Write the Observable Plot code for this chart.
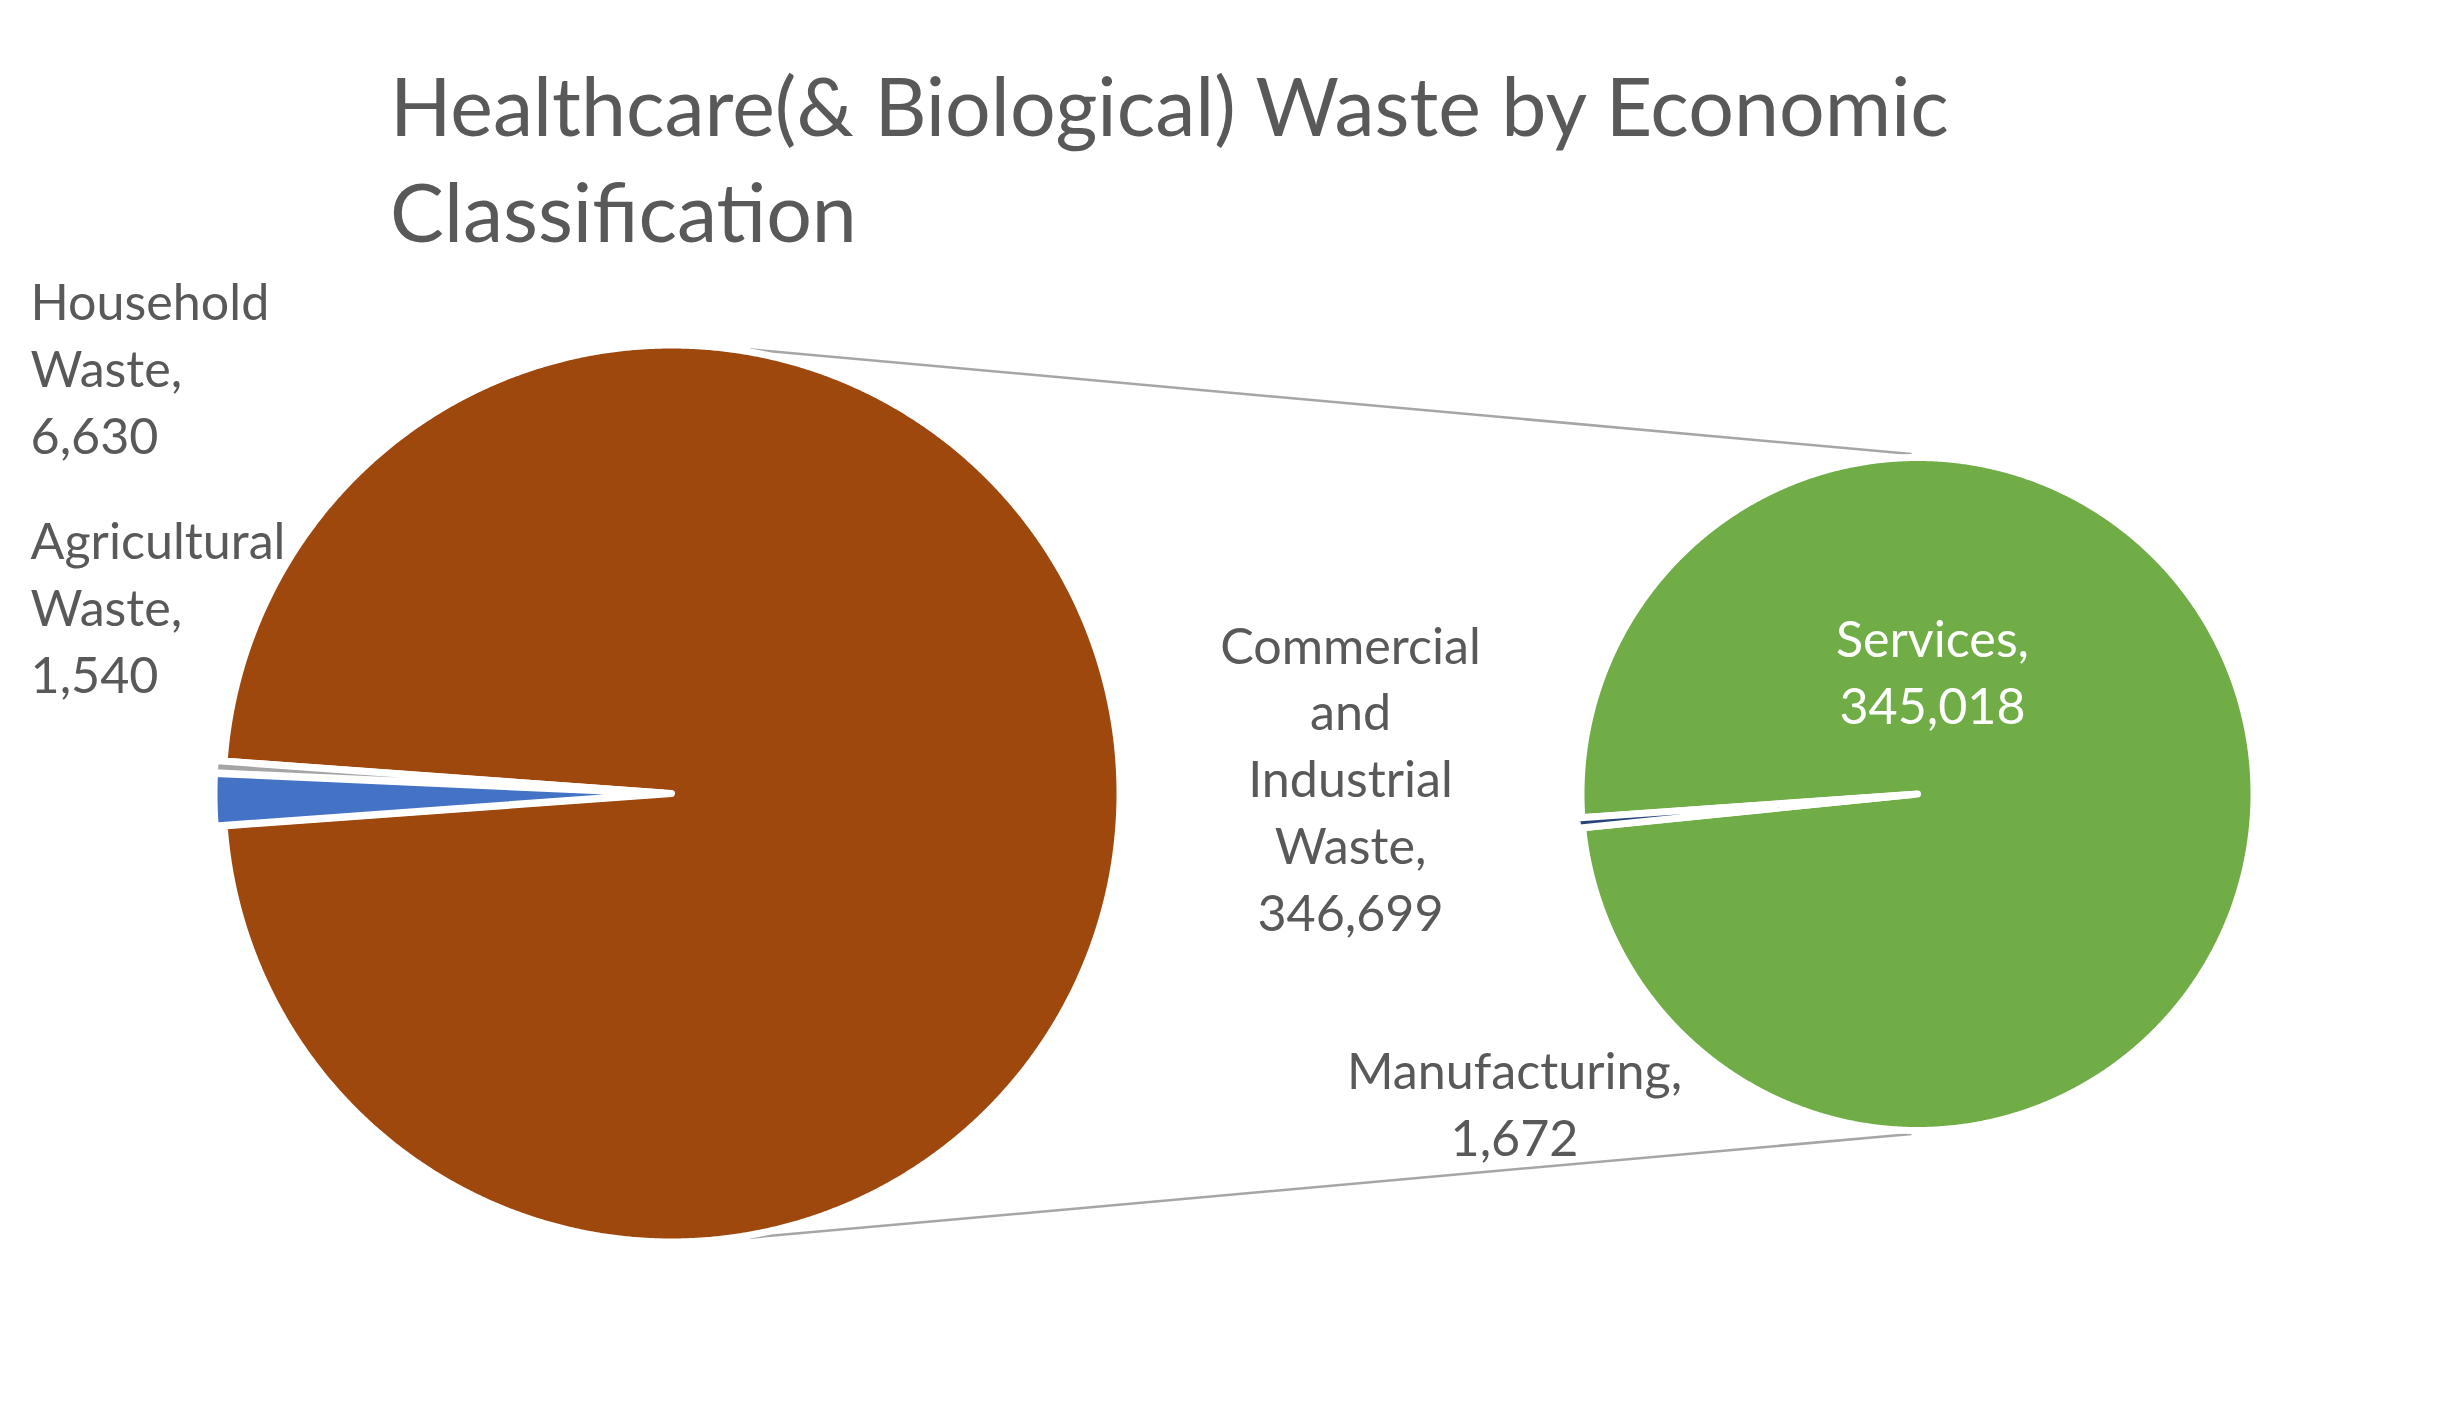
<!DOCTYPE html>
<html><head><meta charset="utf-8">
<script src="https://cdn.jsdelivr.net/npm/d3@7"></script>
<script src="https://cdn.jsdelivr.net/npm/@observablehq/plot@0.6"></script>
<style>
html,body{margin:0;padding:0;background:#fff;}
#wrap{position:relative;width:2448px;height:1421px;overflow:hidden;background:#fff;}
#title{position:relative;height:270px;}
#title div{position:absolute;white-space:nowrap;color:#595959;font-family:Lato;font-weight:400;}
#chart svg{display:block;}
</style></head><body>
<div id="wrap"><div id="title"></div><div id="chart"></div></div>
<script>
// ---- data ----
const titleLines = ["Healthcare(& Biological) Waste by Economic", "Classification"];
const mainCategories = ["Commercial and Industrial Waste", "Agricultural Waste", "Household Waste"];
const mainLabelNames = ["Commercial\nand\nIndustrial\nWaste", "Agricultural\nWaste", "Household\nWaste"];
const mainValues = [346699, 1540, 6630];
const mainColors = ["#9E480E", "#A5A5A5", "#4472C4"];
const subCategories = ["Services", "Manufacturing"];
const subLabelNames = ["Services", "Manufacturing"];
const subValues = [345018, 1672];
const subColors = ["#70AD47", "#264478"];

// ---- layout ----
const W = 2448, TOP = 270, H = 1421 - TOP;
const FONT = "Lato";
const TEXT = "#595959";
const left = {cx: 671, cy: 793, r: 448.5};
const right = {cx: 1917, cy: 793.5, r: 336.5};
const mainExplode = [0, 9, 9];
const subExplode = [0, 5];
const GAP = 7;
const fmt = d3.format(",");
const rad = d => d * Math.PI / 180;

const ctx = document.createElement("canvas").getContext("2d");
function measure(text, size) { ctx.font = `400 ${size}px ${FONT}`; return ctx.measureText(text); }

// title
const titleSize = 87 * 1562 / measure(titleLines[0], 87).width;
const tm = measure(titleLines[0], titleSize);
const asc = tm.fontBoundingBoxAscent, desc = tm.fontBoundingBoxDescent;
const titleBaselines = [137, 243];
titleLines.forEach((t, i) => {
  const d = document.createElement("div");
  d.textContent = t;
  d.style.fontSize = titleSize + "px";
  d.style.lineHeight = titleSize + "px";
  d.style.left = "390px";
  d.style.top = (titleBaselines[i] - ((titleSize - (asc + desc)) / 2 + asc)) + "px";
  document.getElementById("title").appendChild(d);
});

// label font size
const labelSize = 55 * 255 / measure("Agricultural", 55).width;
const lineH = 66.7 / labelSize;

// ---- slices ----
function slices(values, colors, start, pie, explode) {
  const total = d3.sum(values);
  let a = start;
  return values.map((v, i) => {
    const span = v / total * 360;
    const a0 = a, a1 = a + span; a = a1;
    const mid = rad((a0 + a1) / 2);
    const cx = pie.cx + explode[i] * Math.cos(mid), cy = pie.cy - explode[i] * Math.sin(mid);
    const n = Math.max(2, Math.ceil(span / 0.25));
    const pts = [{x: cx, y: cy}];
    for (let k = 0; k <= n; k++) {
      const t = rad(a0 + (a1 - a0) * k / n);
      pts.push({x: cx + pie.r * Math.cos(t), y: cy - pie.r * Math.sin(t)});
    }
    return {points: pts, color: colors[i]};
  });
}
const mainTotal = d3.sum(mainValues);
const mainStart = -(mainValues[0] / mainTotal * 360) / 2;   // "other" slice centred toward the second pie
const subStart = 185.77;
const mainSlices = slices(mainValues, mainColors, mainStart, left, mainExplode);
const subSlices = slices(subValues, subColors, subStart, right, subExplode);

// connector lines
const rl = left.r - GAP / 2 + 6, rr = right.r - GAP / 2 + 7;
const connectors = [];
[[80, 91, "top"], [-80, -91, "bottom"]].forEach(([aL, aR, id]) => {
  connectors.push({id, x: left.cx + rl * Math.cos(rad(aL)), y: left.cy - rl * Math.sin(rad(aL))});
  connectors.push({id, x: right.cx + rr * Math.cos(rad(aR)), y: right.cy - rr * Math.sin(rad(aR))});
});

// labels
const labels = [
  {text: mainLabelNames[2] + ",\n" + fmt(mainValues[2]), x: 30, y: 453, anchor: "start", fill: TEXT},
  {text: mainLabelNames[1] + ",\n" + fmt(mainValues[1]), x: 30, y: 692, anchor: "start", fill: TEXT},
  {text: mainLabelNames[0] + ",\n" + fmt(mainValues[0]), x: 1350, y: 930, anchor: "middle", fill: TEXT},
  {text: subLabelNames[0] + ",\n" + fmt(subValues[0]), x: 1932, y: 723, anchor: "middle", fill: "#ffffff"},
  {text: subLabelNames[1] + ",\n" + fmt(subValues[1]), x: 1514, y: 1155, anchor: "middle", fill: TEXT}
];

const chart = Plot.plot({
  width: W, height: H, margin: 0,
  style: {background: "#fff"},
  x: {domain: [0, W], range: [0, W], axis: null},
  y: {domain: [TOP, 1421], range: [0, H], axis: null},
  marks: [
    Plot.line(connectors, {x: "x", y: "y", z: "id", stroke: "#A6A6A6", strokeWidth: 2.5, strokeLinecap: "butt"}),
    ...mainSlices.concat(subSlices).map(s =>
      Plot.line(s.points, {x: "x", y: "y", fill: s.color, stroke: "#ffffff", strokeWidth: GAP, strokeLinejoin: "round", curve: "linear-closed"})),
    ...labels.map(l => Plot.text([l], {x: "x", y: "y", text: "text", textAnchor: l.anchor, lineAnchor: "bottom",
      lineHeight: lineH, fontSize: labelSize, fontFamily: FONT, fill: l.fill}))
  ]
});
document.getElementById("chart").appendChild(chart);
</script>
</body></html>
